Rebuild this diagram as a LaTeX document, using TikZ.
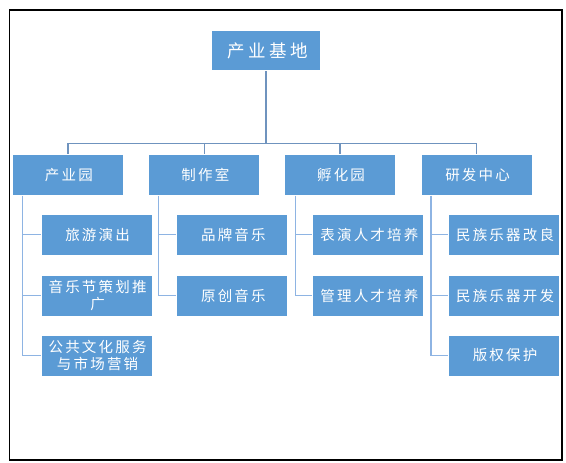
\documentclass[tikz,border=0pt]{standalone}
\usepackage{fontspec}
\newfontfamily\cjkbig[LetterSpace=20]{Noto Sans CJK SC}
\newfontfamily\cjk[LetterSpace=15]{Noto Sans CJK SC}
\definecolor{boxblue}{HTML}{5B9BD5}
\definecolor{topline}{HTML}{6F93BE}
\definecolor{subline}{HTML}{8EB4E3}
\newcommand\tl[1]{#1\kern-0.15em}
\newcommand\tlb[1]{#1\kern-0.2em}
\begin{document}
\begin{tikzpicture}[x=1pt,y=-1pt,
  base/.style={draw=white,line width=0.8pt,fill=boxblue,text=white,inner sep=0pt,align=center},
  topbox/.style={base,minimum width=109pt,minimum height=40pt,font=\cjkbig\fontsize{17.5}{20}\selectfont},
  midbox/.style={base,minimum width=111pt,minimum height=41pt,font=\cjk\fontsize{14.5}{16.5}\selectfont},
  subbox/.style={base,minimum width=111pt,minimum height=41pt,font=\cjk\fontsize{14.5}{16.5}\selectfont},
  link/.style={draw=topline,line width=1.5pt},
  sublink/.style={draw=subline,line width=1.5pt}]
\useasboundingbox (0,0) rectangle (566,463);
\fill[white] (0,0) rectangle (566,463);
\draw[black,line width=1.3pt] (9.5,10) rectangle (562,460);

\node[topbox] (top) at (266,50.7) {\tlb{产业基地}};
\node[midbox] (p1) at (67.8,174.7) {\tl{产业园}};
\node[midbox] (p2) at (204.3,174.7) {\tl{制作室}};
\node[midbox] (p3) at (340,174.7) {\tl{孵化园}};
\node[midbox] (p4) at (476.5,174.7) {\tl{研发中心}};

\node[subbox] (c11) at (96.5,234.5) {\tl{旅游演出}};
\node[subbox] (c12) at (96.5,295.5) {\tl{音乐节策划推}\\\tl{广}};
\node[subbox] (c13) at (96.5,355.5) {\tl{公共文化服务}\\\tl{与市场营销}};
\node[subbox] (c21) at (232.3,234.5) {\tl{品牌音乐}};
\node[subbox] (c22) at (232.3,295.5) {\tl{原创音乐}};
\node[subbox] (c31) at (368.3,234.5) {\tl{表演人才培养}};
\node[subbox] (c32) at (368.3,295.5) {\tl{管理人才培养}};
\node[subbox] (c41) at (504,234.5) {\tl{民族乐器改良}};
\node[subbox] (c42) at (504,295.5) {\tl{民族乐器开发}};
\node[subbox] (c43) at (504,355.5) {\tl{版权保护}};

\coordinate (bus) at (0,143.5);
\coordinate (s1) at (22.7,0);
\coordinate (s2) at (158.7,0);
\coordinate (s3) at (295.3,0);
\coordinate (s4) at (431,0);

% top level connectors
\draw[link] (top.south) -- (top.south |- bus);
\draw[link,line cap=rect] (p1.north |- bus) -- (p4.north |- bus);
\foreach \p in {p1,p2,p3,p4} \draw[link] (\p.north |- bus) -- (\p.north);

% sub connectors
\draw[sublink] (s1 |- p1.south) -- (s1 |- c13.west) -- (c13.west);
\draw[sublink] (s1 |- c11.west) -- (c11.west);
\draw[sublink] (s1 |- c12.west) -- (c12.west);
\draw[sublink] (s2 |- p2.south) -- (s2 |- c22.west) -- (c22.west);
\draw[sublink] (s2 |- c21.west) -- (c21.west);
\draw[sublink] (s3 |- p3.south) -- (s3 |- c32.west) -- (c32.west);
\draw[sublink] (s3 |- c31.west) -- (c31.west);
\draw[sublink] (s4 |- p4.south) -- (s4 |- c43.west) -- (c43.west);
\draw[sublink] (s4 |- c41.west) -- (c41.west);
\draw[sublink] (s4 |- c42.west) -- (c42.west);
\end{tikzpicture}
\end{document}
